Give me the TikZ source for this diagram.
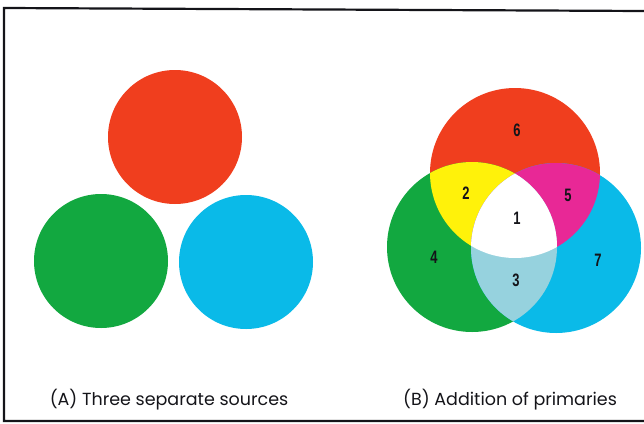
\documentclass[tikz,border=0pt]{standalone}
\usepackage{fontspec}
\setmainfont{Poppins}
\newfontfamily\numfont{Liberation Sans}
\usetikzlibrary{positioning}
\definecolor{srcred}{RGB}{240,62,30}
\definecolor{srcgreen}{RGB}{18,168,64}
\definecolor{srcblue}{RGB}{10,186,232}
\definecolor{addyellow}{RGB}{255,242,10}
\definecolor{addmagenta}{RGB}{232,40,150}
\definecolor{addcyan}{RGB}{150,210,222}
\definecolor{framedark}{RGB}{20,20,25}
\tikzset{
  caption/.style={font=\fontsize{17.5}{20}\selectfont, anchor=base, color=framedark},
  regnum/.style={font=\numfont\bfseries\fontsize{18}{20}\selectfont, xscale=0.72, color=framedark},
  frameline/.style={line width=2.2pt, color=framedark}
}
\begin{document}
\begin{tikzpicture}[x=1pt, y=-1pt]
  \useasboundingbox (0,0) rectangle (644,423);
  % frame
  \draw[frameline] (644,11) -- (4,8) -- (4,421) -- (644,421);
  % (A) separate sources
  \fill[srcred]   (175,137) circle[radius=67pt];
  \fill[srcgreen] (101,261) circle[radius=67pt];
  \fill[srcblue]  (246,262) circle[radius=67pt];
  % (B) additive mixture
  \fill[srcred]   (515,173) circle[radius=85pt];
  \fill[srcgreen] (472,247) circle[radius=85pt];
  \fill[srcblue]  (556,248) circle[radius=85pt];
  \begin{scope}
    \clip (515,173) circle[radius=85pt];
    \fill[addyellow] (472,247) circle[radius=85pt];
  \end{scope}
  \begin{scope}
    \clip (515,173) circle[radius=85pt];
    \fill[addmagenta] (556,248) circle[radius=85pt];
  \end{scope}
  \begin{scope}
    \clip (472,247) circle[radius=85pt];
    \fill[addcyan] (556,248) circle[radius=85pt];
  \end{scope}
  \begin{scope}
    \clip (515,173) circle[radius=85pt];
    \clip (472,247) circle[radius=85pt];
    \fill[white] (556,248) circle[radius=85pt];
  \end{scope}
  % region numbers
  \node[regnum] (n1) at (517,218) {1};
  \node[regnum] (n2) at (466,193) {2};
  \node[regnum] (n3) at (516,280) {3};
  \node[regnum] (n4) at (434,257) {4};
  \node[regnum] (n5) at (568,195) {5};
  \node[regnum] (n6) at (517,130) {6};
  \node[regnum] (n7) at (598,260) {7};
  % captions
  \node[caption] (capA) at (169,405) {(A) Three separate sources};
  \node[caption] (capB) at (510,405) {(B) Addition of primaries};
\end{tikzpicture}
\end{document}
